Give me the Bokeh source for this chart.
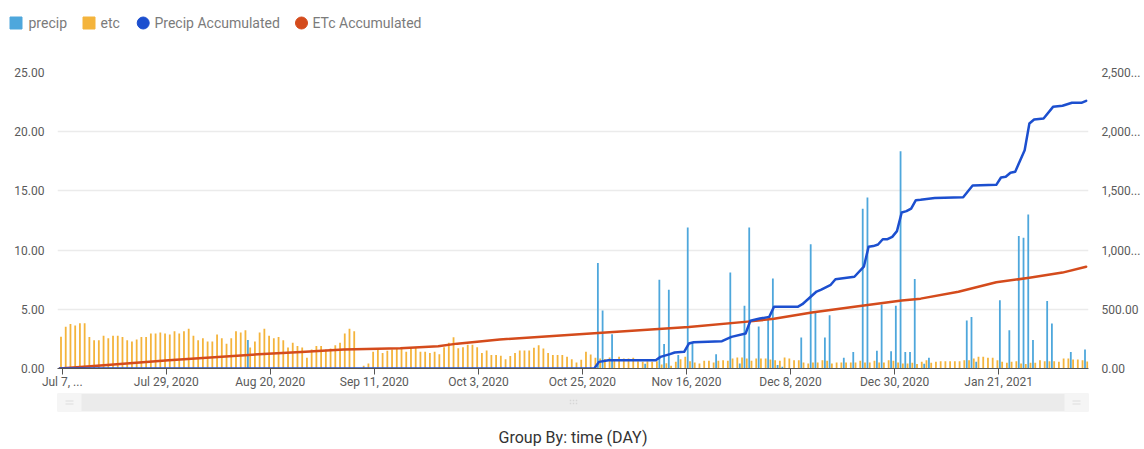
from bokeh.plotting import figure
from bokeh.models import Range1d, LinearAxis, FixedTicker
from bokeh.layouts import column
from bokeh.embed import file_html
from bokeh.resources import INLINE
from bokeh.core.properties import value

# ---------------- data ----------------
start_date = "2020-07-06"          # first daily cell
n_days = 218                        # Jul 6, 2020 .. Feb 8, 2021

etc = [
    2.68, 3.52, 3.75, 3.63, 3.83, 3.83, 2.65, 2.39, 2.39, 2.76,
    2.56, 2.76, 2.76, 2.65, 2.39, 2.28, 2.45, 2.65, 2.65, 2.96,
    2.96, 3.04, 2.96, 2.87, 3.15, 2.96, 3.15, 3.35, 2.76, 2.39,
    2.56, 2.28, 2.28, 2.87, 2.56, 2.08, 2.56, 3.15, 3.04, 3.24,
    1.77, 2.28, 3.04, 3.35, 2.76,
    2.56, 2.65, 2.39, 1.77, 2.17, 1.89, 1.77, 0.90, 1.61, 1.89,
    1.89, 1.61, 1.69, 1.97, 2.17, 2.96, 3.35, 3.15, 0.0,
    0.23, 0.42, 1.41, 1.61, 1.30, 1.49, 1.61, 1.65, 1.69, 1.41,
    1.77, 1.77, 1.41, 1.41, 1.30, 1.41, 1.20, 1.80, 2.18, 2.63,
    1.70, 1.80, 2.00, 2.00, 1.80,
    1.30, 1.52, 1.13, 1.13, 1.07, 0.79, 1.05, 1.30, 1.52, 1.52,
    1.52, 1.75, 1.97, 1.69, 1.30, 1.13, 1.13, 1.13, 1.00, 0.79,
    0.50, 0.73, 1.41, 1.18, 0.90,
    0.85, 0.80, 0.93, 0.76, 1.00, 0.85, 0.85, 0.90, 0.62, 0.56,
    0.62, 0.56, 0.62, 0.34, 0.45, 0.23, 0.56, 0.79, 1.00, 0.62,
    0.50, 0.42, 0.65, 0.65, 0.50, 0.65, 0.70, 0.65, 0.85, 0.93,
    0.93, 0.85, 0.65, 0.85, 0.85, 0.85, 0.76, 0.70, 0.65, 0.93,
    0.85, 0.70, 0.70, 0.50, 0.42, 0.50, 0.50, 0.70, 0.65, 0.42,
    0.50, 0.50, 0.50, 0.50, 0.50, 0.65, 0.50, 0.50, 0.65, 0.50,
    0.50, 0.70, 0.65,
    0.50, 0.42, 0.42, 0.48, 0.37, 0.56, 0.70, 0.48, 0.56, 0.62,
    0.62, 0.62, 0.62, 0.62, 0.70, 0.70, 0.85, 0.99, 0.99, 0.90,
    0.90, 0.70, 0.56, 0.48, 0.56, 0.62, 0.42, 0.37, 0.48, 0.48,
    0.70, 0.62, 0.62, 0.62, 0.56, 0.85, 0.85, 0.76, 0.76, 0.70,
    0.60,
]

precip_days = [40, 114, 115, 117, 124, 127, 128, 129, 131, 133, 134, 139, 142,
               144, 145, 146, 148, 150, 151, 152, 153, 157, 159, 160, 162, 163,
               166, 168, 170, 171, 173, 174, 176, 177, 178, 179, 180, 181, 183,
               184, 192, 193, 194, 199, 201, 203, 204, 205, 206, 209, 210, 214,
               217]
precip_vals = [2.4, 8.9, 4.9, 2.9, 0.4, 7.5, 2.06, 6.65, 1.13, 11.9, 2.2, 1.2, 8.1,
               0.42, 5.3, 11.9, 3.55, 4.2, 7.6, 0.3, 0.15, 2.62, 10.5, 4.72, 2.62, 4.5,
               0.9, 1.4, 13.5, 14.45, 1.5, 5.4, 1.46, 5.3, 18.35, 1.4, 1.4, 7.55, 0.4,
               0.9, 4.05, 4.35, 0.56, 5.77, 3.24, 11.2, 11.04, 13.0, 2.4, 5.7, 3.8, 1.4,
               1.6]

pre_acc_days = [0, 113, 114, 116, 126, 127, 129, 130, 132, 133, 134, 140, 142, 145,
                146, 148, 150, 151, 156, 157, 159, 160, 161, 163, 164, 168, 170, 171,
                172, 173, 174, 175, 176, 177, 178, 179, 180, 181, 182, 185, 191, 193,
                198, 199, 200, 201, 202, 204, 205, 206, 208, 210, 212, 214, 216, 217]
pre_acc_vals = [0, 0, 56, 70, 70, 98, 121, 135, 141, 211, 222, 231, 267, 296,
                403, 422, 436, 521, 521, 543, 614, 650, 667, 707, 754, 775, 860, 1028,
                1034, 1047, 1092, 1092, 1112, 1160, 1318, 1329, 1351, 1422, 1425, 1440,
                1447, 1546, 1551, 1613, 1619, 1653, 1661, 1844, 2069, 2103, 2112, 2210,
                2219, 2244, 2244, 2261]

etc_acc_days = [0, 10, 23, 44, 51, 60, 72, 80, 84, 93, 113, 133, 146, 151, 159,
                168, 178, 182, 190, 198, 205, 212, 217]
etc_acc_vals = [0, 30, 70, 125, 140, 160, 170, 188, 210, 245, 297, 350, 398, 420,
                473, 521, 574, 590, 648, 728, 766, 810, 860]

tick_days = [1, 23, 45, 67, 89, 111, 133, 155, 177, 199]
tick_labels = ["Jul 7, ...", "Jul 29, 2020", "Aug 20, 2020", "Sep 11, 2020",
               "Oct 3, 2020", "Oct 25, 2020", "Nov 16, 2020", "Dec 8, 2020",
               "Dec 30, 2020", "Jan 21, 2021"]
left_ticks = [0, 5, 10, 15, 20, 25]
left_labels = ["0.00", "5.00", "10.00", "15.00", "20.00", "25.00"]
right_ticks = [0, 500, 1000, 1500, 2000, 2500]
right_labels = ["0.00", "500.00", "1,000...", "1,500...", "2,000...", "2,500..."]

series_names = ["precip", "etc", "Precip Accumulated", "ETc Accumulated"]
group_by_text = "Group By: time (DAY)"

# ---------------- styling ----------------
C_PRECIP = "#4ea7dc"
C_ETC = "#f4b43c"
C_PACC = "#1c4fcf"
C_EACC = "#d44b1c"
FONT = "Roboto"
LAB = "#5a5a5a"
W = 1144


def no_align(fig):
    try:
        fig.frame_align = False
    except Exception:
        pass


days = list(range(n_days))
precip = [0.0] * n_days
for d, v in zip(precip_days, precip_vals):
    precip[d] = v

# ---------------- legend strip (0..48 px) ----------------
top = figure(width=W, height=48, x_range=Range1d(0, W), y_range=Range1d(48, 0),
             output_backend="svg", toolbar_location=None,
             x_axis_type=None, y_axis_type=None, min_border=0)
top.outline_line_color = None
top.grid.visible = False
no_align(top)
leg_glyph_x = [15.5, 88.5, 142.7, 301]
leg_text_x = [28, 100, 154, 312]
leg_markers = ["square", "square", "circle", "circle"]
leg_colors = [C_PRECIP, C_ETC, C_PACC, C_EACC]
for gx, tx, mk, col, name in zip(leg_glyph_x, leg_text_x, leg_markers, leg_colors, series_names):
    top.scatter(x=[gx], y=[22.5], marker=mk, size=12, fill_color=col, line_color=col)
    top.text(x=[tx], y=[22.5], text=[name], text_font=value(FONT), text_font_size="14px",
             text_color="#7b7b7b", text_baseline="middle", text_align="left")

# ---------------- main chart (48..392 px) ----------------
p = figure(width=W, height=344, x_range=Range1d(0, n_days), y_range=Range1d(0, 25),
           output_backend="svg", toolbar_location=None,
           min_border_left=57, min_border_right=56, min_border_top=24, min_border_bottom=24)
no_align(p)
p.extra_y_ranges = {"acc": Range1d(0, 2500)}
p.outline_line_color = None
p.xgrid.visible = False
p.ygrid.ticker = FixedTicker(ticks=left_ticks)
p.ygrid.grid_line_color = "#ebebeb"
p.ygrid.grid_line_width = 1.5

ax = p.xaxis[0]
ax.ticker = FixedTicker(ticks=tick_days)
ax.major_label_overrides = dict(zip(tick_days, tick_labels))
ax.axis_line_color = "#555555"
ax.major_tick_line_color = "#555555"
ax.major_tick_out = 6
ax.major_tick_in = 0
ax.minor_tick_line_color = None
ax.major_label_standoff = 0
ax.major_label_text_font = FONT
ax.major_label_text_font_size = "12px"
ax.major_label_text_color = LAB

ay = p.yaxis[0]
ay.ticker = FixedTicker(ticks=left_ticks)
ay.major_label_overrides = dict(zip(left_ticks, left_labels))
ay.axis_line_color = None
ay.major_tick_line_color = None
ay.minor_tick_line_color = None
ay.major_label_standoff = 7
ay.major_label_text_font = FONT
ay.major_label_text_font_size = "12px"
ay.major_label_text_color = LAB

ry = LinearAxis(y_range_name="acc", ticker=FixedTicker(ticks=right_ticks),
                major_label_overrides=dict(zip(right_ticks, right_labels)))
ry.axis_line_color = None
ry.major_tick_line_color = None
ry.minor_tick_line_color = None
ry.major_label_standoff = 7
ry.major_label_text_font = FONT
ry.major_label_text_font_size = "12px"
ry.major_label_text_color = LAB
p.add_layout(ry, "right")

p.vbar(x=[d + 0.26 for d in days], top=precip, width=0.38, bottom=0,
       fill_color=C_PRECIP, line_color=None)
p.vbar(x=[d + 0.74 for d in days], top=etc, width=0.38, bottom=0,
       fill_color=C_ETC, line_color=None)
p.line(x=[d + 0.5 for d in etc_acc_days], y=etc_acc_vals, y_range_name="acc",
       line_color=C_EACC, line_width=2.5, line_join="round", line_cap="round")
p.line(x=[d + 0.5 for d in pre_acc_days], y=pre_acc_vals, y_range_name="acc",
       line_color=C_PACC, line_width=2.5, line_join="round", line_cap="round")

# ---------------- scrollbar + caption (392..449 px) ----------------
bot = figure(width=W, height=57, x_range=Range1d(0, W), y_range=Range1d(57, 0),
             output_backend="svg", toolbar_location=None,
             x_axis_type=None, y_axis_type=None, min_border=0)
bot.outline_line_color = None
bot.grid.visible = False
no_align(bot)
bot.quad(left=[57], right=[1088], top=[1], bottom=[19], fill_color="#ebebeb", line_color=None)
bot.quad(left=[57, 1064], right=[81, 1088], top=[1, 1], bottom=[19, 19],
         fill_color="#f5f5f5", line_color=None)
bot.segment(x0=[65, 65, 1072, 1072], y0=[8.5, 11.5, 8.5, 11.5],
            x1=[73, 73, 1080, 1080], y1=[8.5, 11.5, 8.5, 11.5],
            line_color="#dddddd", line_width=1)
bot.scatter(x=[570, 573, 576, 570, 573, 576], y=[8, 8, 8, 11, 11, 11],
            marker="square", size=1.5, fill_color="#d6d6d6", line_color=None)
bot.text(x=[572.5], y=[45], text=[group_by_text], text_font=value(FONT),
         text_font_size="16px", text_color="#333333", text_align="center",
         text_baseline="middle")

layout = column(top, p, bot, spacing=0)
open("out.html", "w").write(file_html(layout, INLINE))
